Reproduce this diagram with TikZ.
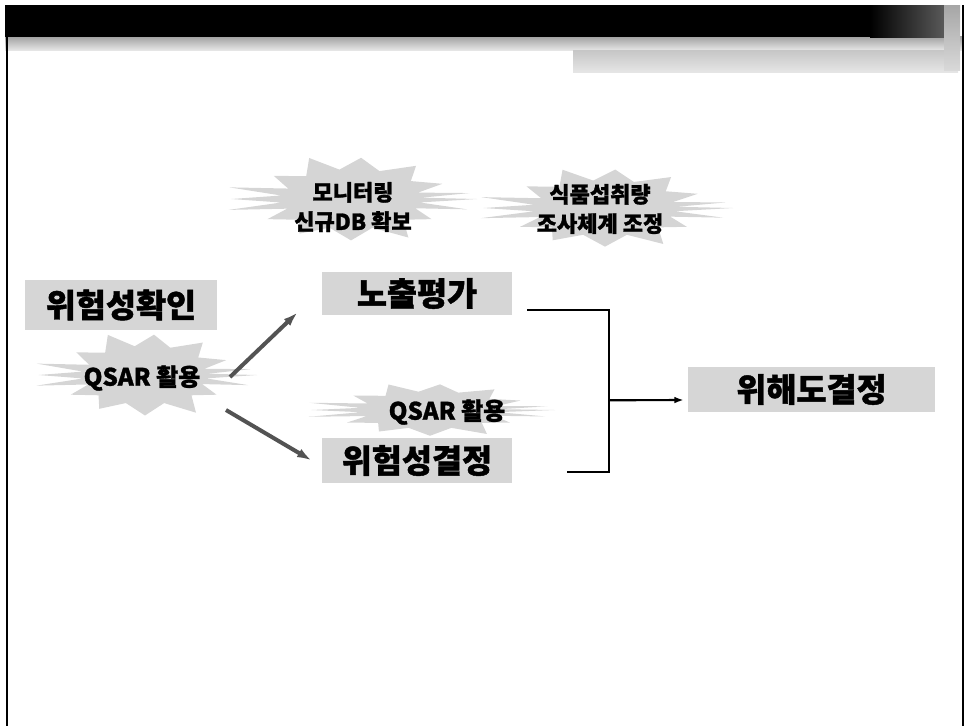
\documentclass[tikz,border=0pt]{standalone}
\usepackage{fontspec}
\newfontfamily\kr{Noto Sans CJK KR}[BoldFeatures={FakeBold=1.3}]
\usetikzlibrary{calc,arrows.meta}
\tikzset{
 boxnode/.style={fill=gray!32, draw=none, inner sep=0pt, font=\kr\bfseries\fontsize{24.5}{28}\selectfont},
 burstfill/.style={fill=gray!33},
 bursttext/.style={font=\kr\bfseries\fontsize{16.5}{22}\selectfont, align=center, inner sep=0pt},
 qtext/.style={font=\kr\bfseries\fontsize{18}{20}\selectfont, inner sep=0pt},
 grarrow/.style={draw=gray!65!black, line width=3pt, -{Latex[length=11pt,width=7pt]}},
 bk/.style={draw=black, line width=1.6pt},
 bkarrow/.style={draw=black, line width=1.6pt, -{Latex[length=7pt,width=5pt]}},
}
\newcommand\myburst[4]{%
 \fill[burstfill] ({#1+#3},#2)
  \foreach \a/\f in {8/0.55,14/0.95,22/0.55,35/0.78,48/0.62,62/0.97,75/0.66,90/0.92,105/0.66,118/0.87,132/0.62,146/0.8,157/0.55,166/1.0,172/0.56,180/0.95,188/0.56,195/1.0,205/0.55,220/0.8,235/0.62,250/0.97,262/0.66,275/0.92,290/0.66,305/0.9,320/0.62,335/0.8,345/0.55,352/0.95,357/0.56}
  { -- ({#1+\f*#3*cos(\a)},{#2+\f*#4*sin(\a)}) } -- cycle;}
\begin{document}
\begin{tikzpicture}[x=0.75pt,y=-0.75pt]
\useasboundingbox (0,0) rectangle (969,726);
% header band
\shade[top color=gray!75, bottom color=gray!20] (5,36) rectangle (963,50);
\shade[top color=gray!45, bottom color=gray!20] (573,50) rectangle (958,72);
\fill[black] (5,5) rectangle (944,37);
\shade[left color=black, right color=gray!70!black] (870,5) rectangle (944,37);
\shade[top color=gray!70, bottom color=gray!30] (944,5) rectangle (960,70);
% frame lines
\draw[black, line width=2.2pt] (7,37) -- (7,726);
\draw[black, line width=2.2pt] (963,5) -- (963,726);
% starbursts
\myburst{351}{199}{126}{45}
\myburst{605}{208}{128}{42}
\myburst{145}{375}{112}{44}
\myburst{430}{410}{125}{28}
% texts on bursts
\node[bursttext] (mon) at (353,207) {모니터링\\신규DB 확보};
\node[bursttext] (food) at (600,209) {식품섭취량\\조사체계 조정};
\node[qtext] (q1) at (142,378) {QSAR 활용};
\node[qtext] (q2) at (447,412) {QSAR 활용};
% boxes
\node[boxnode, minimum width=144pt, minimum height=37.5pt] (idf) at (121,305) {위험성확인};
\node[boxnode, minimum width=142.5pt, minimum height=32.25pt] (expo) at (417,293.5) {노출평가};
\node[boxnode, minimum width=142.5pt, minimum height=33.75pt] (hzd) at (417,460.5) {위험성결정};
\node[boxnode, minimum width=185.25pt, minimum height=33.75pt] (risk) at (811.5,389.5) {위해도결정};
% grey arrows
\draw[grarrow] ($(q1)+(88,-1)$) -- ($(expo.south west)+(-24,-3)$);
\draw[grarrow] ($(q1)+(84,32)$) -- ($(hzd.west)+(-10,0)$);
% bracket
\draw[bk] ($(expo.south east)+(15,-5)$) -| ($(hzd.south east)+(97,-11)$) -- ($(hzd.south east)+(55,-11)$);
\coordinate (jn) at ($(expo.south east)+(97,85)$);
\draw[bkarrow] (jn) -- ($(risk.west)+(-4,10.5)$);
\end{tikzpicture}
\end{document}
